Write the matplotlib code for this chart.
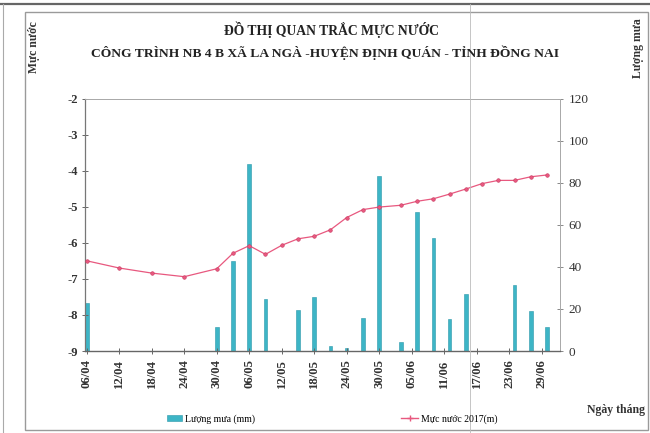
import matplotlib
matplotlib.use("Agg")
import matplotlib.pyplot as plt
import matplotlib.dates as mdates
import pandas as pd
from matplotlib.lines import Line2D
from matplotlib.patches import Patch, Rectangle

# ---------------- data ----------------
level_dates = ["2017-04-06", "2017-04-12", "2017-04-18", "2017-04-24", "2017-04-30",
               "2017-05-03", "2017-05-06", "2017-05-09", "2017-05-12", "2017-05-15",
               "2017-05-18", "2017-05-21", "2017-05-24", "2017-05-27", "2017-05-30",
               "2017-06-03", "2017-06-06", "2017-06-09", "2017-06-12", "2017-06-15",
               "2017-06-18", "2017-06-21", "2017-06-24", "2017-06-27", "2017-06-30"]
water_level = [-6.50, -6.70, -6.84, -6.94, -6.72,
               -6.29, -6.08, -6.32, -6.07, -5.89,
               -5.82, -5.64, -5.30, -5.08, -5.01,
               -4.96, -4.85, -4.78, -4.65, -4.51,
               -4.36, -4.27, -4.27, -4.17, -4.12]

rain_dates = ["2017-04-06", "2017-04-30", "2017-05-03", "2017-05-06", "2017-05-09",
              "2017-05-15", "2017-05-18", "2017-05-21", "2017-05-24", "2017-05-27",
              "2017-05-30", "2017-06-03", "2017-06-06", "2017-06-09", "2017-06-12",
              "2017-06-15", "2017-06-24", "2017-06-27", "2017-06-30"]
rainfall = [23, 11.4, 42.7, 88.7, 24.6,
            19.5, 25.9, 2.2, 1.3, 15.6,
            83.3, 4.4, 66.0, 53.7, 15.1,
            27.3, 31.3, 19.1, 11.6]

tick_start = "2017-04-06"
n_ticks = 15
tick_step = "6D"

title_1 = "ĐỒ THỊ QUAN TRẮC MỰC NƯỚC"
title_2 = "CÔNG TRÌNH NB 4 B XÃ LA NGÀ -HUYỆN ĐỊNH QUÁN - TỈNH ĐỒNG NAI"
left_label = "Mực nước"
right_label = "Lượng mưa"
x_label = "Ngày tháng"
bar_legend = "Lượng mưa (mm)"
line_legend = "Mực nước 2017(m)"

# ---------------- figure ----------------
plt.rcParams['font.family'] = ['Liberation Serif', 'DejaVu Serif']
plt.rcParams['axes.unicode_minus'] = False
W, H = 650, 433
fig = plt.figure(figsize=(W / 100, H / 100), dpi=100)
fig.patch.set_facecolor("white")

def fx(px):
    return px / W

def fy(py):
    return 1 - py / H

ax = fig.add_axes([fx(85), fy(351), fx(560) - fx(85), fy(98.5) - fy(351)])
ax2 = ax.twinx()

ld = pd.to_datetime(level_dates)
rd = pd.to_datetime(rain_dates)
ticks = pd.date_range(tick_start, periods=n_ticks, freq=tick_step)

bar_color = "#3db5c6"
line_color = "#e8587f"

ax2.bar(rd, rainfall, width=0.65, color=bar_color, edgecolor="#2b98aa", linewidth=0.4, zorder=2)
ax.plot(ld, water_level, color=line_color, linewidth=0.9, marker="o", markersize=2.6,
        markerfacecolor=line_color, markeredgecolor="#c83a60", markeredgewidth=0.4, zorder=5)

ax.set_zorder(ax2.get_zorder() + 1)
ax.patch.set_visible(False)

x0 = pd.Timestamp(tick_start)
ax.set_xlim(x0 - pd.Timedelta(hours=8), x0 + pd.Timedelta(days=87.4))
ax.set_ylim(-9, -2)
ax.set_yticks(range(-9, -1))
ax2.set_ylim(0, 120)
ax2.set_yticks(range(0, 121, 20))

ax.set_xticks(ticks)
ax.xaxis.set_major_formatter(mdates.DateFormatter("%d/%m"))
for lbl in ax.get_xticklabels():
    lbl.set_rotation(90)
    lbl.set_fontweight("bold")
    lbl.set_fontsize(9.2)
    lbl.set_color("#333333")

for lbl in ax.get_yticklabels():
    lbl.set_fontweight("bold")
    lbl.set_fontsize(9)
    lbl.set_color("#333333")
for lbl in ax2.get_yticklabels():
    lbl.set_fontsize(9.5)
    lbl.set_color("#333333")

ax.tick_params(axis="x", direction="inout", length=4, width=0.7, color="#666666", pad=4)
ax.tick_params(axis="y", direction="inout", length=4, width=0.7, color="#666666", pad=3)
ax2.tick_params(axis="y", direction="inout", length=4, width=0.7, color="#888888", pad=4)

for a in (ax, ax2):
    for s in a.spines.values():
        s.set_color("#aaaaaa")
        s.set_linewidth(0.7)
ax.spines["left"].set_color("#777777")
ax.spines["bottom"].set_color("#666666")
ax.spines["bottom"].set_linewidth(1.0)
ax.spines["left"].set_linewidth(0.9)

# titles and labels
fig.text(fx(331), fy(30), title_1, ha="center", va="center", fontsize=9.8, fontweight="bold", color="#222222")
fig.text(fx(325), fy(53), title_2, ha="center", va="center", fontsize=9.7, fontweight="bold", color="#222222")
fig.text(fx(34), fy(47), left_label, rotation=90, ha="center", va="center", fontsize=8.5,
         fontweight="bold", color="#333333")
fig.text(fx(638), fy(48), right_label, rotation=90, ha="center", va="center", fontsize=8.5,
         fontweight="bold", color="#333333")
fig.text(fx(616), fy(410), x_label, ha="center", va="center", fontsize=8.5,
         fontweight="bold", color="#333333")

# legends
h_bar = Patch(facecolor=bar_color, edgecolor="#2b98aa", linewidth=0.4)
h_line = Line2D([], [], color=line_color, linewidth=1.0, marker="+", markersize=4)
leg1 = fig.legend([h_bar], [bar_legend], loc="center left", bbox_to_anchor=(fx(158), fy(419)),
                  frameon=False, fontsize=7, handlelength=1.6, handleheight=0.6, handletextpad=0.3)
leg2 = fig.legend([h_line], [line_legend], loc="center left", bbox_to_anchor=(fx(392), fy(419)),
                  frameon=False, fontsize=7, handlelength=1.8, handletextpad=0.3)

# page frame (scan look)
fig.add_artist(Rectangle((fx(25), fy(430)), fx(648) - fx(25), fy(12) - fy(430), fill=False,
                         edgecolor="#9a9a9a", linewidth=1.0, transform=fig.transFigure))
fig.add_artist(Line2D([0, 1], [fy(4), fy(4)], color="#666666", linewidth=1.6, transform=fig.transFigure))
fig.add_artist(Line2D([fx(3), fx(3)], [0, fy(4)], color="#aaaaaa", linewidth=0.8, transform=fig.transFigure))
fig.add_artist(Line2D([fx(470), fx(470)], [0, fy(4)], color="#bbbbbb", linewidth=0.6, transform=fig.transFigure))

fig.savefig("out.png", dpi=100)
